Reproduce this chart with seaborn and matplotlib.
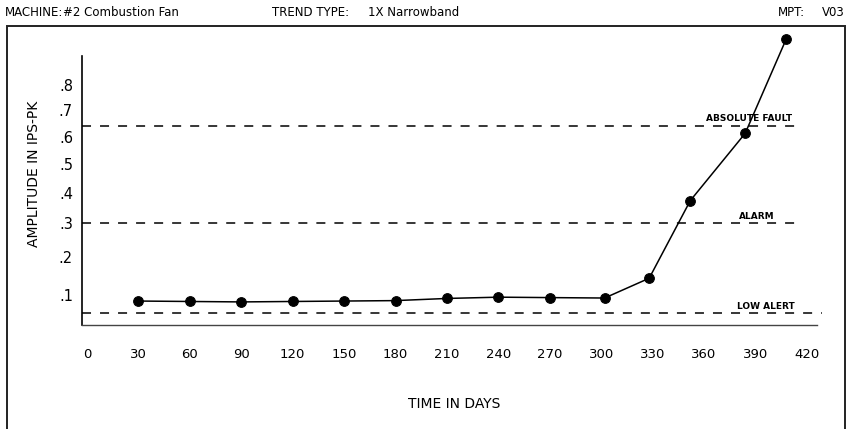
import numpy as np
import matplotlib
matplotlib.use('Agg')
import matplotlib.pyplot as plt
import seaborn as sns
from matplotlib.patches import Rectangle

# trend readings
days = [30, 60, 90, 120, 150, 180, 210, 240, 270, 302, 328, 352, 384, 408]
amplitude = [0.086, 0.085, 0.084, 0.085, 0.086, 0.087, 0.092, 0.095, 0.094,
             0.093, 0.142, 0.374, 0.612, 0.99]

x_ticks = [0, 30, 60, 90, 120, 150, 180, 210, 240, 270, 300, 330, 360, 390, 420]
y_ticks = [0.1, 0.2, 0.3, 0.4, 0.5, 0.6, 0.7, 0.8]
y_tick_labels = ['.1', '.2', '.3', '.4', '.5', '.6', '.7', '.8']

# alarm limits
limit_names = ['ABSOLUTE FAULT', 'ALARM', 'LOW ALERT']
limit_values = [0.64, 0.30, 0.059]
limit_ends = [413, 417, 429]
limit_label_x = [386, 391, 396]

sns.set_style('white')
plt.rcParams['font.family'] = ['DejaVu Sans']
plt.rcParams['text.color'] = 'black'
plt.rcParams['axes.labelcolor'] = 'black'
plt.rcParams['xtick.color'] = 'black'
plt.rcParams['ytick.color'] = 'black'

fig = plt.figure(figsize=(8.5, 4.29), dpi=100)
ax = fig.add_axes([82 / 850, 1 - 325 / 429, 735 / 850, 269 / 429])

# amplitude axis is compressed like the original plotter chart
ax.set_yscale('function', functions=(lambda v: np.power(np.clip(v, 0, None), 0.75),
                                     lambda f: np.power(np.clip(f, 0, None), 4 / 3)))

sns.lineplot(x=days, y=amplitude, ax=ax, color='black', linewidth=1.1,
             marker='o', markersize=7, markeredgecolor='black',
             markerfacecolor='black', clip_on=False, zorder=5)

for name, val, end, lx in zip(limit_names, limit_values, limit_ends, limit_label_x):
    ax.plot([-2.9, end], [val, val], color='black', lw=1.1,
            linestyle=(0, (5.9, 5.9)), clip_on=False)
    ax.annotate(name, (lx, val), xytext=(0, 2), textcoords='offset points',
                ha='center', va='bottom', fontsize=6.5, fontweight='bold')

ax.set_xlim(-2.9, 425.9)
ax.set_ylim(0.036, 0.918)
ax.set_xticks(x_ticks)
ax.set_xticklabels([str(t) for t in x_ticks])
ax.set_yticks(y_ticks)
ax.set_yticklabels(y_tick_labels)
ax.minorticks_off()
ax.tick_params(axis='x', length=0, pad=16.5, labelsize=9.5)
ax.tick_params(axis='y', length=0, pad=6.5, labelsize=10.5)

for side in ['top', 'right']:
    ax.spines[side].set_visible(False)
ax.spines['left'].set_color('black')
ax.spines['left'].set_linewidth(1.2)
ax.spines['bottom'].set_color('#444444')
ax.spines['bottom'].set_linewidth(1.0)

ax.set_xlabel('TIME IN DAYS', fontsize=10)
ax.xaxis.set_label_coords(0.507, -0.268)
ax.set_ylabel('AMPLITUDE IN IPS-PK', fontsize=10)
ax.yaxis.set_label_coords(-0.056, 0.56)

# header row
hy = 1 - 12 / 429
fig.text(5 / 850, hy, 'MACHINE:', fontsize=8.5, va='center')
fig.text(63 / 850, hy, '#2 Combustion Fan', fontsize=8.5, va='center')
fig.text(272 / 850, hy, 'TREND TYPE:', fontsize=8.5, va='center')
fig.text(368 / 850, hy, '1X Narrowband', fontsize=8.5, va='center')
fig.text(778 / 850, hy, 'MPT:', fontsize=8.5, va='center')
fig.text(845 / 850, hy, 'V03', fontsize=8.5, va='center', ha='right')

# frame around the plot
fig.add_artist(Rectangle((7 / 850, -0.05), 838 / 850, 1.05 - 26 / 429,
                         transform=fig.transFigure, fill=False,
                         edgecolor='#222222', lw=1.4))

fig.savefig('out.png', dpi=100)
